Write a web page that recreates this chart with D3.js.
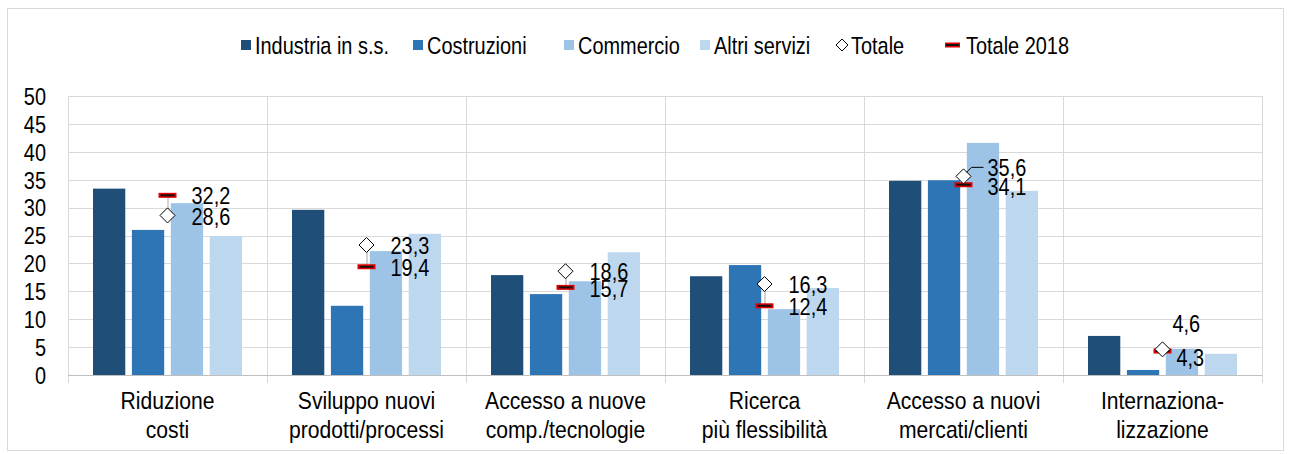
<!DOCTYPE html>
<html>
<head>
<meta charset="utf-8">
<script src="https://cdn.jsdelivr.net/npm/d3@7"></script>
<style>
  body { margin: 0; background: #fff; }
  svg text { font-family: "Liberation Sans Narrow", "Arial Narrow", "Liberation Sans", Arial, sans-serif; fill: #000; }
</style>
</head>
<body>
<div class="canvas"></div>
<script>
const categories = [
  ['Riduzione', 'costi'],
  ['Sviluppo nuovi', 'prodotti/processi'],
  ['Accesso a nuove', 'comp./tecnologie'],
  ['Ricerca', 'più flessibilità'],
  ['Accesso a nuovi', 'mercati/clienti'],
  ['Internaziona-', 'lizzazione']
];
const seriesNames = ['Industria in s.s.', 'Costruzioni', 'Commercio', 'Altri servizi'];
const industria = [33.4, 29.6, 17.9, 17.7, 34.8, 7.0];
const costruzioni = [26.0, 12.4, 14.5, 19.7, 34.9, 0.9];
const commercio = [30.8, 22.2, 16.8, 11.8, 41.6, 4.7];
const altriServizi = [24.9, 25.3, 22.0, 15.6, 33.0, 3.8];
const totale = [28.6, 23.3, 18.6, 16.3, 35.6, 4.6];
const totale2018 = [32.2, 19.4, 15.7, 12.4, 34.1, 4.3];
const yTicks = [0, 5, 10, 15, 20, 25, 30, 35, 40, 45, 50];

// label nudges (px) for the two value labels of each group
const labelDyTot = [0, 0, 0, 0, -9, -26];
const labelDy18 = [0, 0, 0, 0, 1, 6];
const labelDx = [24, 24, 24, 24, 24, 10];

const colors = ['#1f4e79', '#2e75b6', '#9dc3e6', '#bdd7ee'];
const seriesValues = [industria, costruzioni, commercio, altriServizi];

const dims = { width: 1290, height: 454 };
const margin = { left: 68, right: 28, top: 96, bottom: 79 };
const fontSize = 24;
const squeeze = 0.83;

const svg = d3.select('.canvas')
  .append('svg')
  .attr('width', dims.width)
  .attr('height', dims.height);

// narrow-looking text: place at (x, y) and squeeze horizontally
const place = (xf, yf, k = squeeze) => (d, i) => `translate(${xf(d, i)},${yf(d, i)}) scale(${k},1)`;

svg.append('rect')
  .attr('x', 7.5).attr('y', 8.5)
  .attr('width', 1276).attr('height', 442)
  .attr('fill', 'none')
  .attr('stroke', '#d9d9d9');

const x0 = d3.scaleBand()
  .domain(d3.range(categories.length))
  .range([margin.left, dims.width - margin.right]);

const x1 = d3.scaleBand()
  .domain(d3.range(seriesNames.length))
  .range([25, x0.bandwidth() - 25])
  .paddingInner(0.17);

const y = d3.scaleLinear()
  .domain([0, 50])
  .range([dims.height - margin.bottom, margin.top]);

// horizontal grid
svg.append('g')
  .selectAll('line')
  .data(yTicks.slice(1))
  .enter()
  .append('line')
  .attr('x1', margin.left).attr('x2', dims.width - margin.right)
  .attr('y1', (d) => Math.round(y(d)) + 0.5).attr('y2', (d) => Math.round(y(d)) + 0.5)
  .attr('stroke', '#d9d9d9').attr('stroke-width', 1);

// vertical separators
svg.append('g')
  .selectAll('line')
  .data(d3.range(categories.length + 1))
  .enter()
  .append('line')
  .attr('x1', (d) => Math.round(margin.left + d * x0.bandwidth()) + 0.5)
  .attr('x2', (d) => Math.round(margin.left + d * x0.bandwidth()) + 0.5)
  .attr('y1', margin.top).attr('y2', y(0) + 8)
  .attr('stroke', '#d9d9d9').attr('stroke-width', 1);

// y axis labels
svg.append('g')
  .selectAll('text')
  .data(yTicks)
  .enter()
  .append('text')
  .attr('transform', place(() => 46, (d) => y(d)))
  .attr('dy', '0.37em')
  .attr('text-anchor', 'end')
  .attr('font-size', fontSize)
  .text((d) => d);

// bars
const groups = svg.append('g')
  .selectAll('g')
  .data(categories)
  .enter()
  .append('g')
  .attr('transform', (d, i) => `translate(${x0(i)},0)`);

groups.selectAll('rect')
  .data((d, i) => seriesValues.map((s, j) => ({ s: j, v: s[i] })))
  .enter()
  .append('rect')
  .attr('x', (d) => x1(d.s))
  .attr('width', x1.bandwidth())
  .attr('y', (d) => y(d.v))
  .attr('height', (d) => y(0) - y(d.v))
  .attr('fill', (d) => colors[d.s]);

// x axis line
svg.append('line')
  .attr('x1', margin.left).attr('x2', dims.width - margin.right)
  .attr('y1', y(0) + 0.5).attr('y2', y(0) + 0.5)
  .attr('stroke', '#bfbfbf');

const cx = x0.bandwidth() / 2;

// category labels
groups.append('text')
  .attr('transform', place(() => cx, () => 409, 0.88))
  .attr('text-anchor', 'middle')
  .attr('font-size', fontSize)
  .selectAll('tspan')
  .data((d) => d)
  .enter()
  .append('tspan')
  .attr('x', 0)
  .attr('dy', (d, i) => (i === 0 ? 0 : 29))
  .text((d) => d);

// connector between Totale and Totale 2018
groups.filter((d, i) => i < 5)
  .append('line')
  .attr('x1', cx + 0.5).attr('x2', cx + 0.5)
  .attr('y1', (d, i) => y(totale[i]))
  .attr('y2', (d, i) => y(totale2018[i]))
  .attr('stroke', '#a6a6a6').attr('stroke-width', 1);

// Totale 2018 markers
groups.append('rect')
  .attr('x', cx - 9).attr('y', (d, i) => y(totale2018[i]) - 2.5)
  .attr('width', 18).attr('height', 5)
  .attr('fill', '#e00000');
groups.append('line')
  .attr('x1', cx - 7).attr('x2', cx + 7)
  .attr('y1', (d, i) => y(totale2018[i])).attr('y2', (d, i) => y(totale2018[i]))
  .attr('stroke', '#111').attr('stroke-width', 2);

// Totale diamonds
groups.append('path')
  .attr('d', (d, i) => {
    const yy = y(totale[i]);
    return `M${cx},${yy - 7.5}L${cx + 7.5},${yy}L${cx},${yy + 7.5}L${cx - 7.5},${yy}Z`;
  })
  .attr('fill', '#fff')
  .attr('stroke', '#000')
  .attr('stroke-width', 1);

// value labels
const fmt = (v) => v.toFixed(1).replace('.', ',');

groups.append('text')
  .attr('transform', place((d, i) => cx + labelDx[i], (d, i) => y(totale[i]) + labelDyTot[i]))
  .attr('dy', '0.38em')
  .attr('font-size', fontSize)
  .text((d, i) => fmt(totale[i]));

groups.append('text')
  .attr('transform', place((d, i) => cx + labelDx[i] + (i === 5 ? 4 : 0), (d, i) => y(totale2018[i]) + labelDy18[i]))
  .attr('dy', '0.38em')
  .attr('font-size', fontSize)
  .text((d, i) => fmt(totale2018[i]));

// leader line for the Accesso a nuovi mercati label
groups.filter((d, i) => i === 4)
  .append('polyline')
  .attr('points', () => {
    const yy = y(totale[4]);
    return `${cx + 3},${yy - 4} ${cx + 8},${yy - 9} ${cx + 20},${yy - 9}`;
  })
  .attr('fill', 'none')
  .attr('stroke', '#000')
  .attr('stroke-width', 1);

// legend
const legendItems = [
  { name: seriesNames[0], type: 'rect', color: colors[0], x: 241 },
  { name: seriesNames[1], type: 'rect', color: colors[1], x: 413 },
  { name: seriesNames[2], type: 'rect', color: colors[2], x: 564 },
  { name: seriesNames[3], type: 'rect', color: colors[3], x: 700 },
  { name: 'Totale', type: 'diamond', x: 836 },
  { name: 'Totale 2018', type: 'dash', x: 945 }
];

const legend = svg.append('g')
  .selectAll('g')
  .data(legendItems)
  .enter()
  .append('g')
  .attr('transform', (d) => `translate(${d.x},45)`);

legend.filter((d) => d.type === 'rect')
  .append('rect')
  .attr('x', 0).attr('y', -5)
  .attr('width', 10).attr('height', 10)
  .attr('fill', (d) => d.color);

legend.filter((d) => d.type === 'diamond')
  .append('path')
  .attr('d', 'M6,-6L12,0L6,6L0,0Z')
  .attr('fill', '#fff').attr('stroke', '#000');

legend.filter((d) => d.type === 'dash')
  .call((g) => {
    g.append('rect').attr('x', 0).attr('y', -2.5).attr('width', 15).attr('height', 5).attr('fill', '#e00000');
    g.append('line').attr('x1', 1).attr('x2', 14).attr('y1', 0).attr('y2', 0).attr('stroke', '#111').attr('stroke-width', 2);
  });

legend.append('text')
  .attr('transform', place((d) => (d.type === 'rect' ? 14 : d.type === 'diamond' ? 15 : 21), () => 0))
  .attr('dy', '0.37em')
  .attr('font-size', fontSize)
  .text((d) => d.name);
</script>
</body>
</html>
